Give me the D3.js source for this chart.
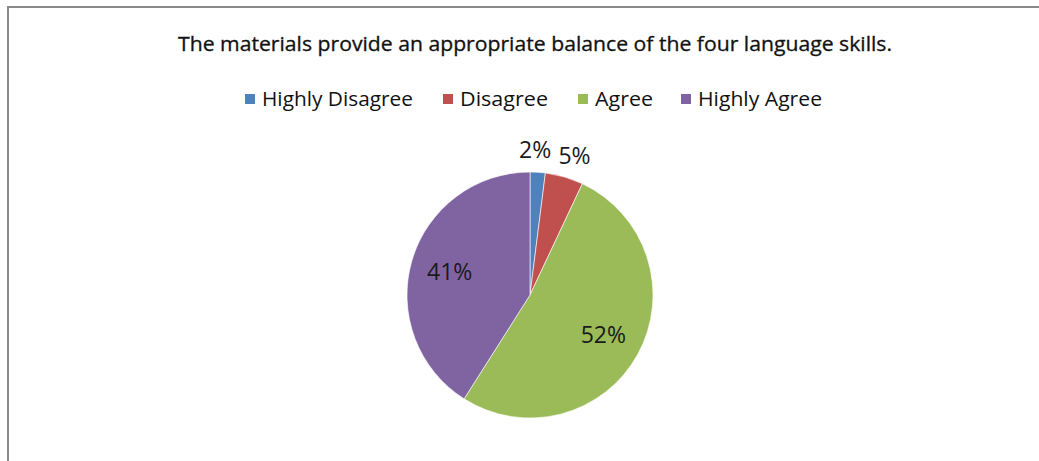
<!DOCTYPE html>
<html>
<head>
<meta charset="utf-8">
<script src="https://cdn.jsdelivr.net/npm/d3@7"></script>
<style>
  body { margin: 0; background: #fff; }
  text { font-family: "Liberation Sans Narrow", "Open Sans", "Noto Sans", sans-serif; fill: #111; }
</style>
</head>
<body>
<div id="chart"></div>
<script>
var title = "The materials provide an appropriate balance of the four language skills.";
var categories = ["Highly Disagree", "Disagree", "Agree", "Highly Agree"];
var values = [2, 5, 52, 41];
var colors = ["#4f81bd", "#c0504d", "#9bbb59", "#8064a2"];

var width = 1039, height = 461;

var svg = d3.select("#chart").append("svg")
  .attr("width", width)
  .attr("height", height);

// frame of the chart area
svg.append("rect")
  .attr("x", 8).attr("y", 7)
  .attr("width", width + 10).attr("height", height + 10)
  .attr("fill", "#fff")
  .attr("stroke", "#8a8a8a")
  .attr("stroke-width", 2);

svg.append("text")
  .attr("x", 535).attr("y", 51)
  .attr("text-anchor", "middle")
  .attr("font-size", 20)
  .attr("textLength", 714)
  .attr("lengthAdjust", "spacingAndGlyphs")
  .style("stroke", "#111").style("stroke-width", 0.3)
  .text(title);

// legend
var legX = [245, 443, 578, 681];
var legW = [151, 88, 58, 124];
var legend = svg.selectAll(".leg")
  .data(categories)
  .enter().append("g")
  .attr("class", "leg")
  .attr("transform", function(d, i) { return "translate(" + legX[i] + ",99)"; });

legend.append("rect")
  .attr("x", 0).attr("y", -5)
  .attr("width", 10).attr("height", 10)
  .attr("fill", function(d, i) { return colors[i]; });

legend.append("text")
  .attr("x", 17).attr("y", 7)
  .attr("font-size", 20)
  .attr("textLength", function(d, i) { return legW[i]; })
  .attr("lengthAdjust", "spacingAndGlyphs")
  .text(function(d) { return d; });

// pie
var cx = 530, cy = 295, r = 123;
var pie = d3.pie().sort(null).value(function(d) { return d; });
var arcs = pie(values);
var arc = d3.arc().innerRadius(0).outerRadius(r);
var inLabel = d3.arc().innerRadius(r * 0.68).outerRadius(r * 0.68);
var outLabel = d3.arc().innerRadius(r * 1.18).outerRadius(r * 1.18);

var g = svg.append("g").attr("transform", "translate(" + cx + "," + cy + ")");

g.selectAll("path")
  .data(arcs)
  .enter().append("path")
  .attr("d", arc)
  .attr("fill", function(d, i) { return colors[i]; })
  .attr("stroke", "#fff")
  .attr("stroke-width", 0.6);

g.selectAll(".lbl")
  .data(arcs)
  .enter().append("text")
  .attr("class", "lbl")
  .attr("transform", function(d, i) {
    var c = (d.data < 10 ? outLabel : inLabel).centroid(d);
    // nudge the two small outside labels apart as the original does
    if (i === 0) c[0] -= 4;
    if (i === 1) c[0] += 4;
    return "translate(" + c + ")";
  })
  .attr("text-anchor", "middle")
  .attr("dy", "0.35em")
  .attr("font-size", 23)
  .style("font-family", "'Open Sans', 'Noto Sans', sans-serif")
  .style("fill", "#1a1a1a")
  .text(function(d) { return d.data + "%"; });
</script>
</body>
</html>
